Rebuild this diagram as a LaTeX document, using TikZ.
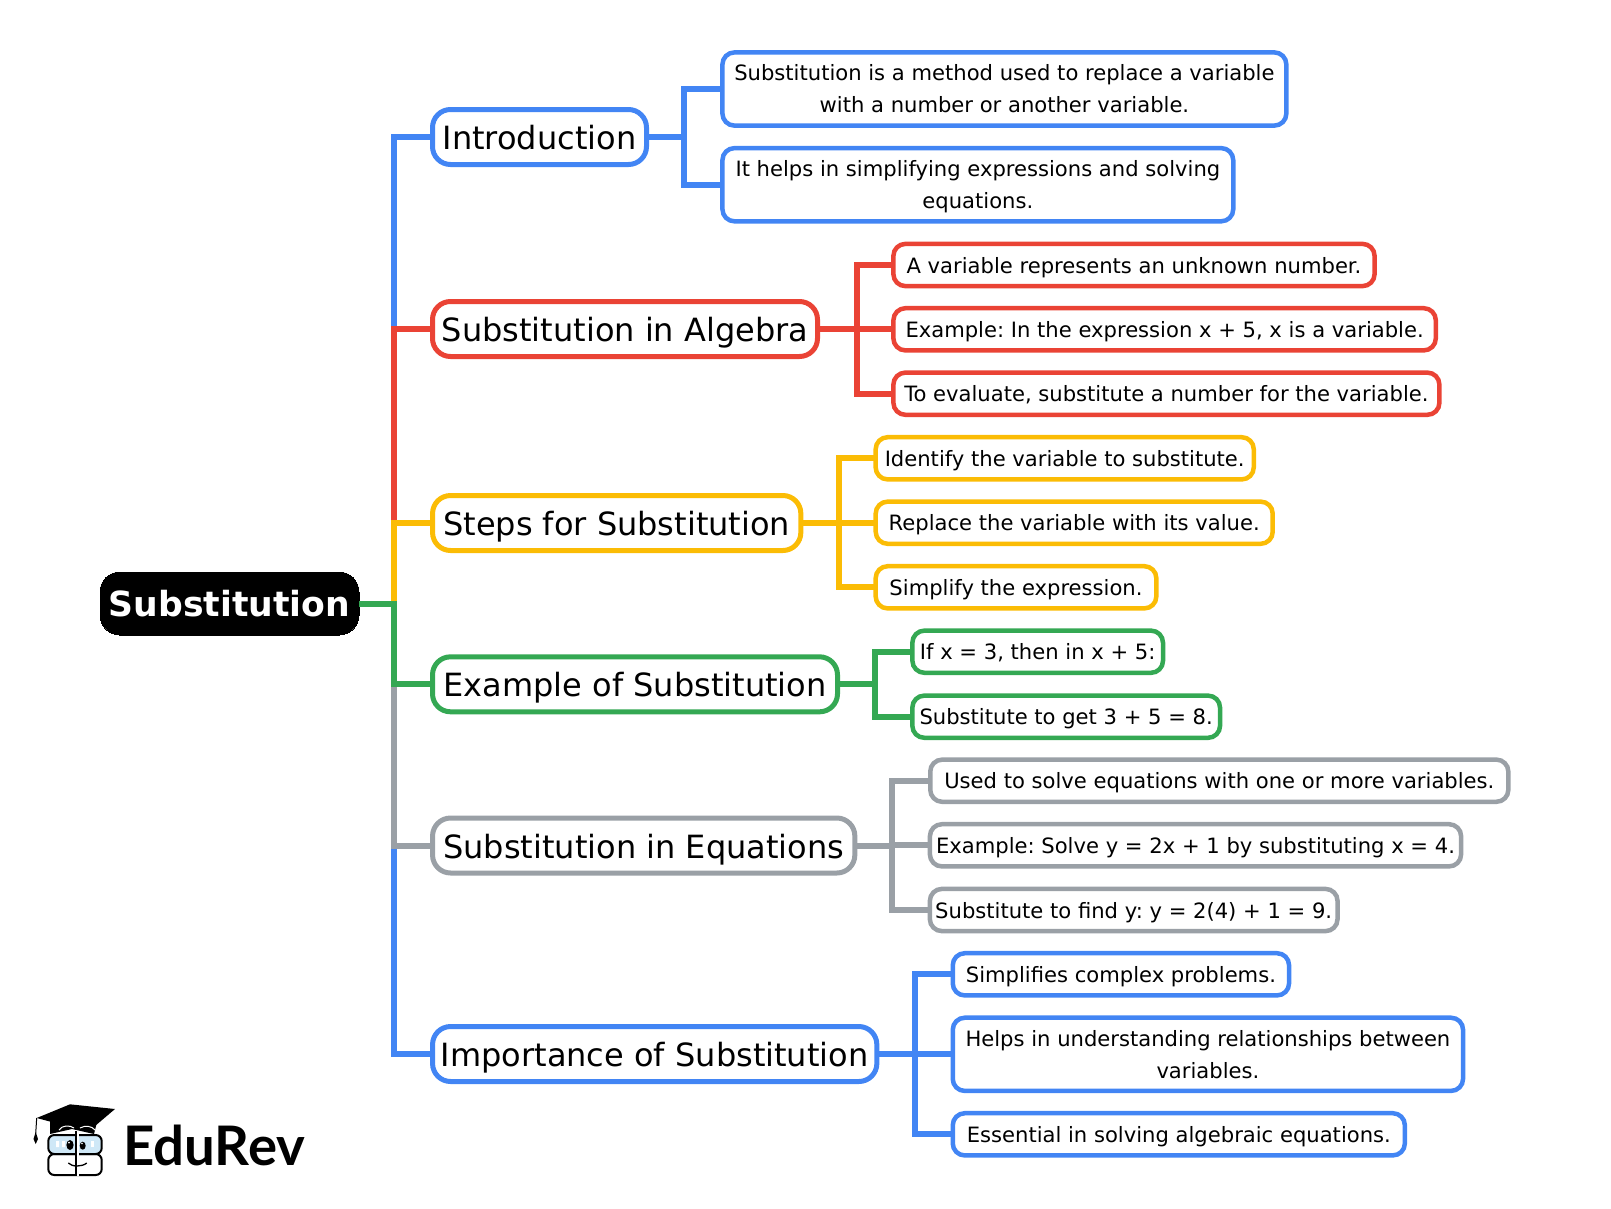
\documentclass[tikz,border=0pt]{standalone}
\usepackage{fontspec}
\setmainfont{DejaVu Sans}
\newfontfamily\logofont{Lato}
\frenchspacing
\definecolor{gblue}{HTML}{4285F4}
\definecolor{gred}{HTML}{EA4335}
\definecolor{gyellow}{HTML}{FBBC05}
\definecolor{ggreen}{HTML}{34A853}
\definecolor{ggray}{HTML}{9AA0A6}
\definecolor{lens}{HTML}{CFE8F7}
\tikzset{
	rootbox/.style={draw=black, fill=black, text=white, line width=0pt, rounded corners=20pt, inner sep=0pt, outer sep=0pt, minimum width=259pt, minimum height=63pt, font=\fontsize{34.6}{40}\selectfont\bfseries},
	topicbox/.style={draw=#1, fill=white, line width=5pt, rounded corners=18pt, inner sep=0pt, outer sep=0pt, minimum height=55pt, text height=25pt, text depth=0pt, font=\fontsize{32}{38}\selectfont},
	leafbox/.style={draw=#1, fill=white, line width=4.5pt, rounded corners=12pt, inner sep=0pt, outer sep=0pt, align=center, font=\fontsize{21.1}{32}\selectfont},
	oneline/.style={minimum height=42.2pt, text height=16pt, text depth=0pt},
	twolines/.style={minimum height=73.2pt, execute at begin node=\rule{0pt}{18.5pt}},
	link/.style={draw=#1, line width=6pt}
}
\begin{document}
\begin{tikzpicture}[x=1pt,y=-1pt]
\useasboundingbox (0,0) rectangle (1611,1208);

\node[rootbox] (root) at (229.5,603.5) {Substitution};
\coordinate (trunk) at (394.3,603.5);

% order matters here, later branches lie over the trunk
\foreach \name/\col/\cx/\cy/\w/\bx/\txt in {
	intro/gblue/539.5/137/214/684.3/{Introduction},
	algebra/gred/625/329/385/856.5/{Substitution in Algebra},
	steps/gyellow/616.7/523/368.3/838.5/{Steps for Substitution},
	importance/gblue/654.7/1054/444.3/915.3/{Importance of Substitution},
	equations/ggray/643.7/845.5/422.3/892/{Substitution in Equations},
	example/ggreen/635/684.3/405/875/{Example of Substitution}}{
	\node[topicbox=\col, minimum width=\w] (\name) at (\cx,\cy) {\txt};
	\coordinate (\name-bar) at (\bx,\cy);
	\draw[link=\col] (root.east) -- (trunk) |- (\name.west);
}

\foreach \name/\parent/\col/\cx/\cy/\w/\txt in {
	algebraA/algebra/gred/1134/265/481.2/{A variable represents an unknown number.},
	algebraB/algebra/gred/1164.6/329.3/542.4/{Example: In the expression x + 5, x is a variable.},
	algebraC/algebra/gred/1166.4/393.7/546/{To evaluate, substitute a number for the variable.},
	stepsA/steps/gyellow/1064.7/458.3/378.1/{Identify the variable to substitute.},
	stepsB/steps/gyellow/1074.2/522.7/397/{Replace the variable with its value.},
	stepsC/steps/gyellow/1016/587.3/280.7/{Simplify the expression.},
	exampleA/example/ggreen/1037.7/651.7/250.6/{If x = 3, then in x + 5:},
	exampleB/example/ggreen/1066.2/716.7/307.7/{Substitute to get 3 + 5 = 8.},
	equationsA/equations/ggray/1219.3/780.7/578.1/{Used to solve equations with one or more variables.},
	equationsB/equations/ggray/1195.5/845.3/531.2/{Example: Solve y = 2x + 1 by substituting x = 4.},
	equationsC/equations/ggray/1133.7/910/407.7/{Substitute to find y: y = 2(4) + 1 = 9.},
	importanceA/importance/gblue/1120.9/974.3/336.3/{Simplifies complex problems.},
	importanceC/importance/gblue/1178.8/1134.3/452.1/{Essential in solving algebraic equations.}}{
	\node[leafbox=\col, oneline, minimum width=\w] (\name) at (\cx,\cy) {\txt};
	\draw[link=\col] (\parent.east) -- (\parent-bar) |- (\name.west);
}

\foreach \name/\parent/\col/\cx/\cy/\w/\txt in {
	introA/intro/gblue/1004.4/89/563.9/{Substitution is a method used to replace a variable\\with a number or another variable.},
	introB/intro/gblue/977.85/184.7/510.8/{It helps in simplifying expressions and solving\\\smash{equations.}},
	importanceB/importance/gblue/1207.9/1054.3/510.3/{Helps in understanding relationships between\\variables.}}{
	\node[leafbox=\col, twolines, minimum width=\w] (\name) at (\cx,\cy) {\txt};
	\draw[link=\col] (\parent.east) -- (\parent-bar) |- (\name.west);
}

% logo
\node[anchor=base west, inner sep=0pt, font=\logofont\bfseries\fontsize{54.5}{60}\selectfont] (brand) at (123,1165) {EduRev};
\fill[black] (50,1116) -- (50,1134) -- (72,1129) -- (94,1134) -- (97,1122) -- cycle;
\fill[black] (36.7,1118) -- (70,1104.3) -- (115,1109) -- (88.3,1131.7) -- cycle;
\draw[black, line width=1pt] (36.7,1118) -- (35.7,1134);
\fill[black] (35.7,1132) -- (38,1139) -- (35.7,1144) -- (33.5,1139) -- cycle;
\draw[white, line width=1pt] (59,1130) .. controls (62,1125) and (70,1125) .. (74,1128);
\draw[white, line width=1pt] (80,1128) .. controls (85,1125) and (92,1126) .. (95,1130);
\draw[black, fill=lens, line width=2pt, rounded corners=6pt] (48.3,1135) rectangle (101.7,1154);
\draw[black, line width=2pt, rounded corners=6pt] (48.3,1154) rectangle (101.7,1175);
\fill[white] (62,1141) rectangle (65,1147) (56,1141) rectangle (59,1147);
\fill[white] (91,1141) rectangle (94,1147);
\draw[white, line width=3pt] (77.3,1131) -- (77.3,1176);
\draw[black, line width=1.6pt] (76,1131) -- (76,1176);
\fill[black] (70,1145) ellipse (3.6 and 5);
\fill[black] (82.7,1145.7) ellipse (3 and 4);
\fill[white] (69,1142.5) circle (1) (82,1143.5) circle (0.8);
\draw[black, line width=1.3pt] (68.3,1163) .. controls (72,1167) and (82,1167) .. (86.7,1163);
\end{tikzpicture}
\end{document}
